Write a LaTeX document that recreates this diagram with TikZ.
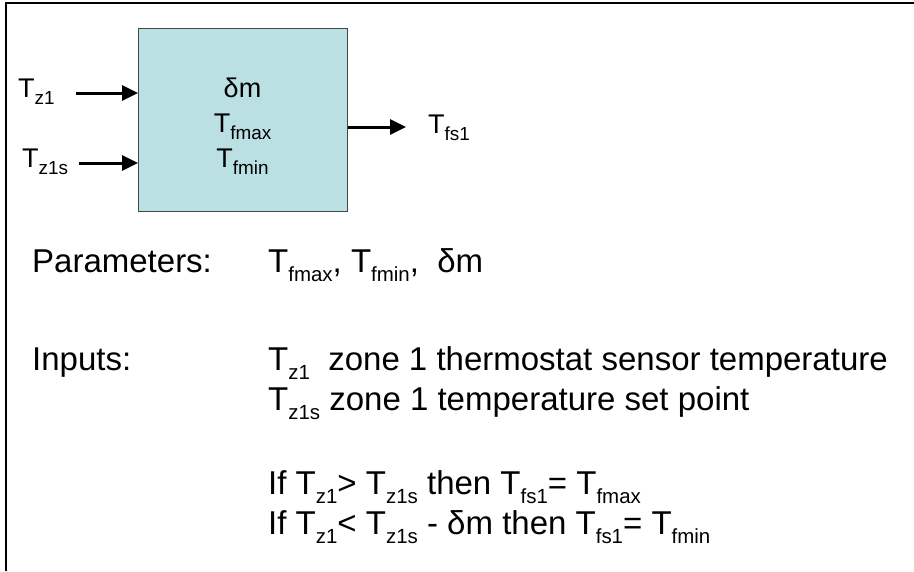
\documentclass[tikz,border=0pt]{standalone}
\usepackage{fontspec}
\setmainfont{Liberation Sans}
\usepackage{graphicx}
\usetikzlibrary{arrows.meta}
\definecolor{boxfill}{RGB}{186,224,228}
\definecolor{boxline}{RGB}{70,70,70}
\newcommand\sbA[1]{\raisebox{-7pt}{\scalebox{0.7}{#1}}}
\newcommand\sbB[1]{\raisebox{-9pt}{\scalebox{0.62}{#1}}}
\begin{document}
\begin{tikzpicture}[x=1pt,y=-1pt,
  lbl/.style={inner sep=0pt, anchor=base west, font=\fontsize{27}{32}\selectfont},
  txt/.style={inner sep=0pt, anchor=base west, font=\fontsize{33}{39}\selectfont},
  arr/.style={line width=3pt, -{Triangle[length=16pt,width=15pt]}}]
\useasboundingbox (0,0) rectangle (914,571);
\draw[line width=2.5pt] (6,571) -- (6,3) -- (914,3);
\node[draw=boxline, fill=boxfill, line width=1.2pt, minimum width=209pt, minimum height=183pt, inner sep=0pt, anchor=north west] (blk) at (138,28) {};
\node[lbl, anchor=base] (dm) at (242.5,97) {δm};
\node[lbl, anchor=base] (tmax) at (242.5,132) {T\sbA{fmax}};
\node[lbl, anchor=base] (tmin) at (242.5,167) {T\sbA{fmin}};
\node[lbl] (tz1) at (18,97) {T\sbA{z1}};
\node[lbl] (tz1s) at (22,167) {T\sbA{z1s}};
\node[lbl] (tfs) at (428,133) {T\sbA{fs1}};
\coordinate (a1) at (0,93);
\coordinate (a2) at (0,163);
\coordinate (a3) at (0,127);
\draw[arr, shorten <=21pt] (tz1.east |- a1) -- (blk.west |- a1);
\draw[arr, shorten <=11pt] (tz1s.east |- a2) -- (blk.west |- a2);
\draw[arr, shorten >=22pt] (blk.east |- a3) -- (tfs.west |- a3);
\node[txt] (par) at (32,272) {Parameters:};
\node[txt] (parv) at (268,272) {T\sbB{fmax}, T\sbB{fmin}, \ δm};
\node[txt] (inp) at (32,370) {Inputs:};
\node[txt] (in1) at (268,370) {T\sbB{z1}\ \ zone 1 thermostat sensor temperature};
\node[txt] (in2) at (268,410) {T\sbB{z1s} zone 1 temperature set point};
\node[txt] (if1) at (268,494) {If T\sbB{z1}> T\sbB{z1s} then T\sbB{fs1}= T\sbB{fmax}};
\node[txt] (if2) at (268,534) {If T\sbB{z1}< T\sbB{z1s} - δm then T\sbB{fs1}= T\sbB{fmin}};
\end{tikzpicture}
\end{document}
